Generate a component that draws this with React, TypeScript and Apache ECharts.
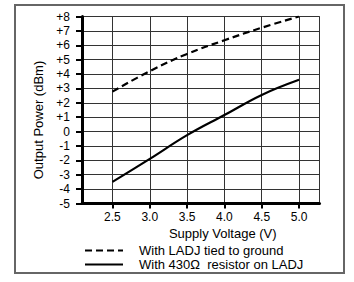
import React, { useEffect, useRef } from "react";
import * as echarts from "echarts";

const xValues = [2.5, 3.0, 3.5, 4.0, 4.5, 5.0];
const ladjGround = [2.78, 4.2, 5.4, 6.35, 7.22, 8.0];
const resistor430 = [-3.5, -1.9, -0.25, 1.15, 2.55, 3.6];
const xTicks = [2.5, 3.0, 3.5, 4.0, 4.5, 5.0];
const xMin = 2.092;
const xMax = 5.274;
const yMin = -5;
const yMax = 8;
const seriesNames = ["With LADJ tied to ground", "With 430Ω  resistor on LADJ"];
const xName = "Supply Voltage (V)";
const yName = "Output Power (dBm)";

const FONT = "'Liberation Sans', Arial, Helvetica, sans-serif";

export default function App() {
  const ref = useRef<HTMLDivElement>(null);
  useEffect(() => {
    if (!ref.current) return;
    const chart = echarts.init(ref.current, undefined, { renderer: "svg" });
    chart.setOption({
      animation: false,
      backgroundColor: "#fff",
      textStyle: { fontFamily: FONT },
      grid: {
        left: 82,
        top: 16.5,
        width: 237.5,
        height: 187,
        show: true,
        borderColor: "#333",
        borderWidth: 1,
        backgroundColor: "transparent",
      },
      graphic: [
        {
          type: "rect",
          shape: { x: 15, y: 5, width: 329, height: 268 },
          style: { fill: "none", stroke: "#666", lineWidth: 2 },
          silent: true,
        },
      ],
      legend: {
        orient: "vertical",
        left: 84,
        top: 244,
        padding: 0,
        itemWidth: 38,
        itemHeight: 14,
        itemGap: 1,
        data: seriesNames,
        itemStyle: { color: "rgba(0,0,0,0)", borderColor: "rgba(0,0,0,0)", borderWidth: 0, opacity: 0 },
        textStyle: { fontSize: 13, color: "#000", fontFamily: FONT, padding: [0, 0, 0, 11] },
      },
      xAxis: {
        type: "value",
        min: xMin,
        max: xMax,
        name: xName,
        nameLocation: "middle",
        nameGap: 20,
        nameTextStyle: { fontSize: 13, color: "#000", fontFamily: FONT, padding: [0, 0, 0, 44] },
        axisLine: { show: true, onZero: false, lineStyle: { color: "#000", width: 3 } },
        axisTick: { show: true, inside: false, length: 5, lineStyle: { color: "#000", width: 2 }, customValues: xTicks },
        axisLabel: {
          customValues: xTicks,
          fontSize: 12,
          color: "#000",
          margin: 7,
          fontFamily: FONT,
          formatter: (v: number) => v.toFixed(1),
        },
        splitLine: { show: true, lineStyle: { color: "#333", width: 1 } },
      },
      yAxis: {
        type: "value",
        min: yMin,
        max: yMax,
        interval: 1,
        name: yName,
        nameLocation: "middle",
        nameGap: 33,
        nameTextStyle: { fontSize: 13, color: "#000", fontFamily: FONT, padding: [0, 20, 0, 0] },
        axisLine: { show: true, onZero: false, lineStyle: { color: "#000", width: 3 } },
        axisTick: { show: true, inside: false, length: 6, lineStyle: { color: "#000", width: 2 } },
        axisLabel: {
          fontSize: 12,
          color: "#000",
          margin: 12,
          fontFamily: FONT,
          formatter: (v: number) => (v > 0 ? "+" + v : String(v)),
        },
        splitLine: { show: true, lineStyle: { color: "#333", width: 1 } },
      },
      series: [
        {
          name: seriesNames[0],
          type: "line",
          data: xValues.map((x, i) => [x, ladjGround[i]]),
          smooth: 0.4,
          symbol: "none",
          lineStyle: { color: "#000", width: 2.2, type: [7, 4] },
          itemStyle: { color: "#000" },
        },
        {
          name: seriesNames[1],
          type: "line",
          data: xValues.map((x, i) => [x, resistor430[i]]),
          smooth: 0.4,
          symbol: "none",
          lineStyle: { color: "#000", width: 2.2, type: "solid" },
          itemStyle: { color: "#000" },
        },
      ],
    });
    return () => chart.dispose();
  }, []);
  return (
    <div
      ref={ref}
      style={{ position: "fixed", left: 0, top: 0, width: 354, height: 282, background: "#fff" }}
    />
  );
}
